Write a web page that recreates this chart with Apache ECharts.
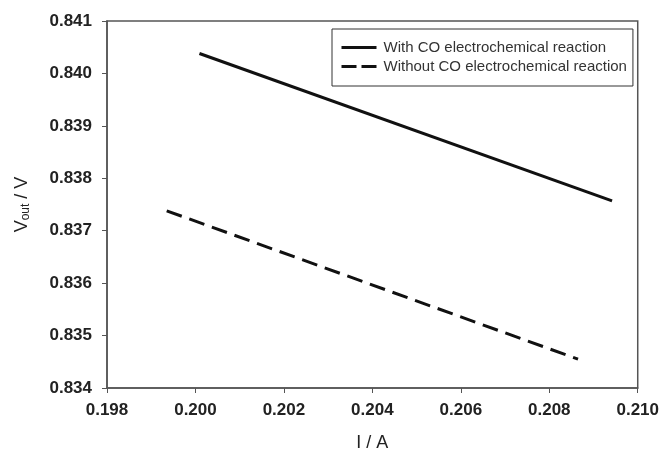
<!DOCTYPE html>
<html>
<head>
<meta charset="utf-8">
<script src="https://cdn.jsdelivr.net/npm/echarts@6/dist/echarts.min.js"></script>
<style>
  html, body { margin: 0; padding: 0; background: #fff; }
  #chart { width: 662px; height: 457px; }
</style>
</head>
<body>
<div id="chart"></div>
<script>
const withCoCurrent = [0.20009, 0.20942];
const withCoVoltage = [0.84038, 0.83757];
const withoutCoCurrent = [0.19935, 0.20865];
const withoutCoVoltage = [0.83738, 0.83455];
const seriesNames = ['With CO electrochemical reaction', 'Without CO electrochemical reaction'];

const pairs = (xs, ys) => xs.map((x, i) => [x, ys[i]]);

const chart = echarts.init(document.getElementById('chart'));
const axisColor = '#555';
const labelFont = { color: '#222', fontFamily: 'Liberation Sans', fontWeight: 'bold', fontSize: 17 };

chart.setOption({
  animation: false,
  backgroundColor: '#fff',
  grid: { left: 107, right: 23, top: 21, bottom: 65, show: true, borderColor: axisColor, borderWidth: 1.5 },
  legend: {
    left: 332, top: 29,
    orient: 'vertical',
    padding: [11, 6, 12, 8],
    itemGap: 4,
    itemWidth: 35, itemHeight: 12,
    borderColor: '#333', borderWidth: 1,
    textStyle: { color: '#333', fontFamily: 'Liberation Sans', fontSize: 15, padding: [0, 0, 0, 2] },
    itemStyle: { opacity: 0 },
    data: [
      { name: seriesNames[0], lineStyle: { width: 3 } },
      { name: seriesNames[1], lineStyle: { width: 3, type: [15, 5] } },
    ],
  },
  xAxis: {
    type: 'value',
    min: 0.198, max: 0.210, interval: 0.002,
    name: 'I / A', nameLocation: 'middle', nameGap: 46,
    nameTextStyle: { color: '#222', fontFamily: 'Liberation Sans', fontSize: 18 },
    axisLine: { lineStyle: { color: axisColor, width: 1.5 } },
    axisTick: { length: 5, lineStyle: { color: axisColor } },
    axisLabel: { ...labelFont, margin: 14, formatter: (v) => v.toFixed(3) },
    splitLine: { show: false },
  },
  yAxis: {
    type: 'value',
    min: 0.834, max: 0.841, interval: 0.001,
    name: '{v|V}{s|out}{v| / V}', nameLocation: 'middle', nameGap: 75,
    nameTextStyle: {
      rich: {
        v: { color: '#222', fontFamily: 'Liberation Sans', fontSize: 18 },
        s: { color: '#222', fontFamily: 'Liberation Sans', fontSize: 12, padding: [8, 0, 0, 0] },
      },
    },
    axisLine: { lineStyle: { color: axisColor, width: 1.5 } },
    axisTick: { length: 5, lineStyle: { color: axisColor } },
    axisLabel: { ...labelFont, margin: 15, formatter: (v) => v.toFixed(3) },
    splitLine: { show: false },
  },
  series: [
    {
      name: seriesNames[0],
      type: 'line',
      symbol: 'none',
      data: pairs(withCoCurrent, withCoVoltage),
      lineStyle: { color: '#111', width: 3 },
      itemStyle: { color: '#111' },
    },
    {
      name: seriesNames[1],
      type: 'line',
      symbol: 'none',
      data: pairs(withoutCoCurrent, withoutCoVoltage),
      lineStyle: { color: '#111', width: 3, type: [16, 8] },
      itemStyle: { color: '#111' },
    },
  ],
});
</script>
</body>
</html>
